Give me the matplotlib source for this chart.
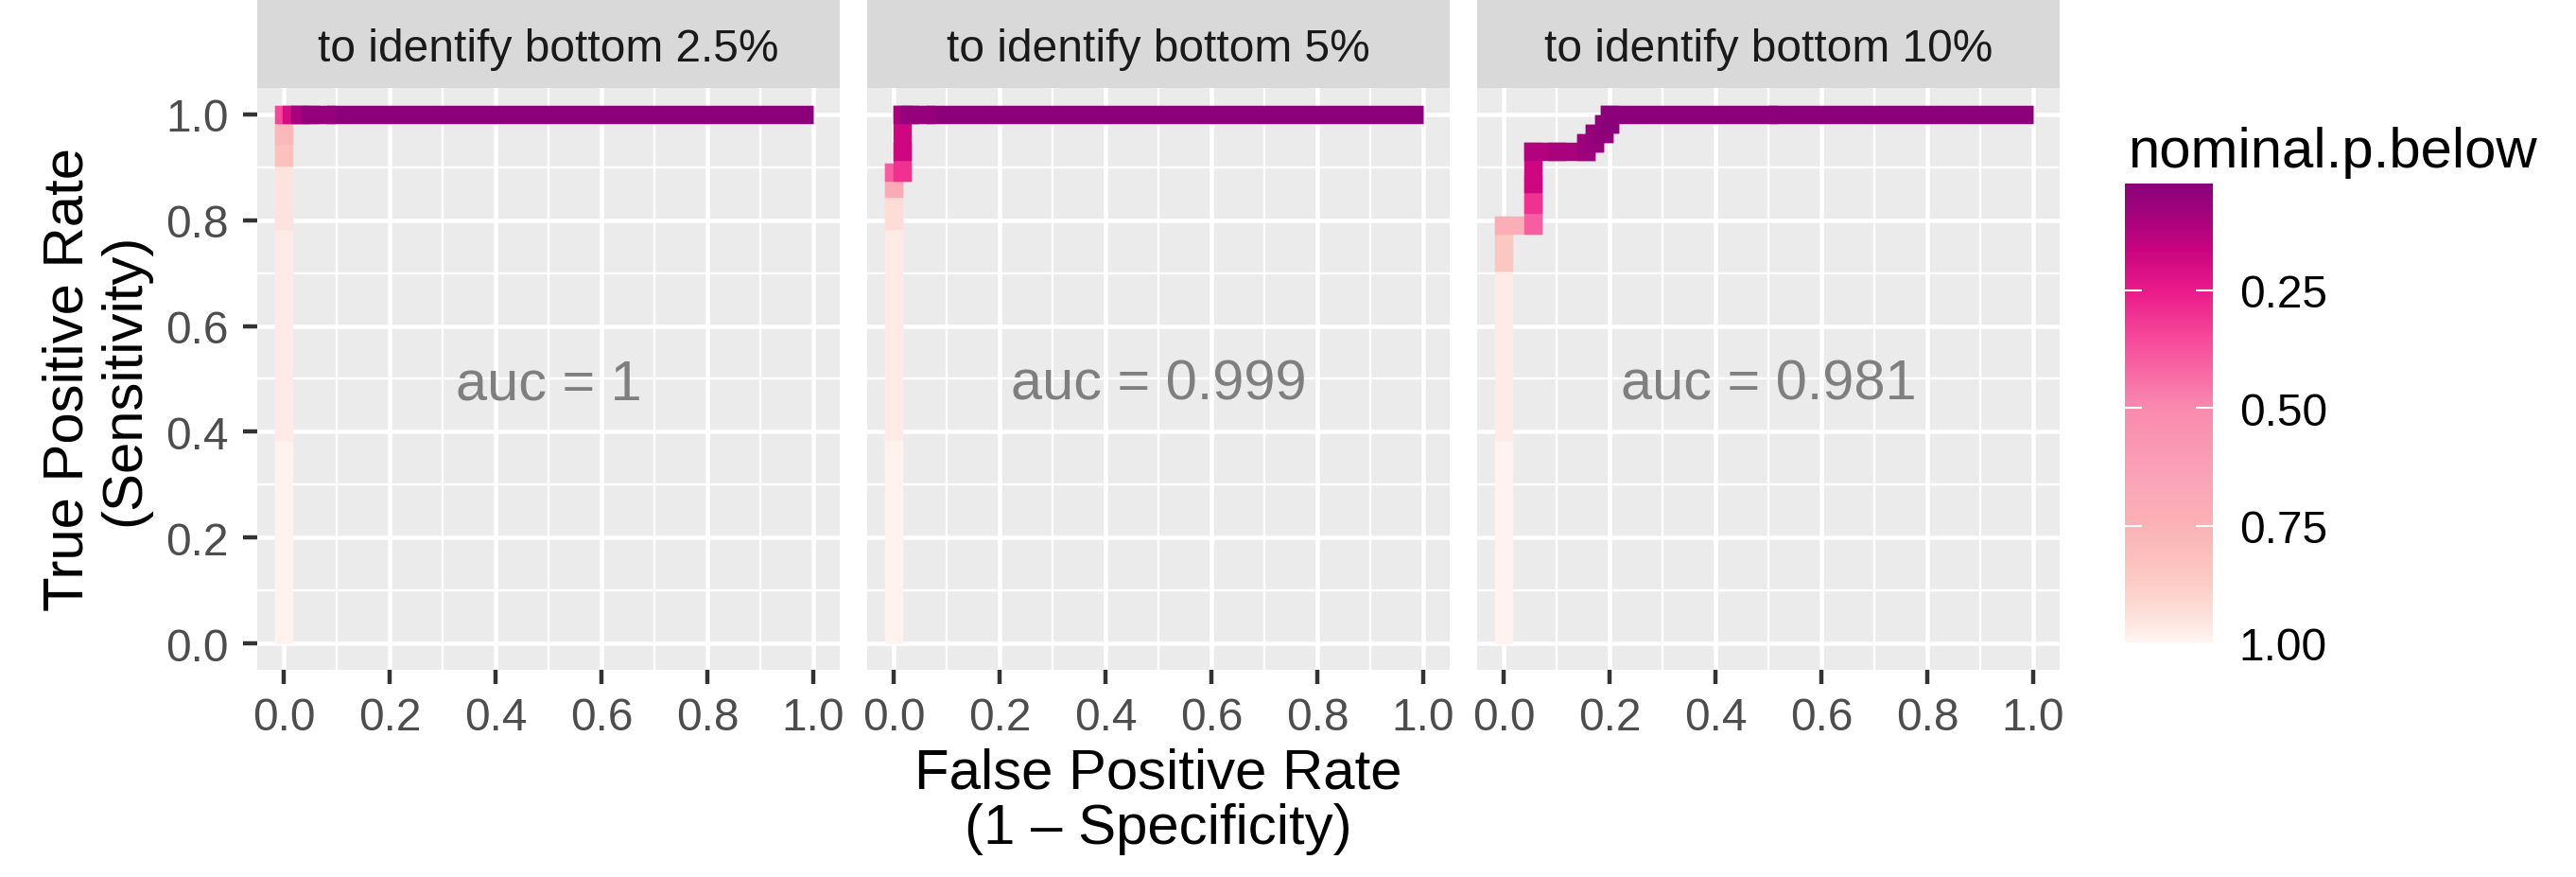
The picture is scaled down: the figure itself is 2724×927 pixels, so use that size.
import numpy as np
import matplotlib
matplotlib.use("Agg")
import matplotlib.pyplot as plt
from matplotlib.collections import LineCollection
from matplotlib.colors import LinearSegmentedColormap, Normalize
import matplotlib.cm as cm

plt.rcParams['font.family'] = ['Liberation Sans', 'DejaVu Sans']

# ---------------- data ----------------
facet_titles = ["to identify bottom 2.5%", "to identify bottom 5%", "to identify bottom 10%"]
auc_labels = ["auc = 1", "auc = 0.999", "auc = 0.981"]

fpr_25 = [0.0, 0.0, 0.0, 0.0, 0.0, 0.0, 0.015, 0.03, 0.05, 0.08, 1.0]
tpr_25 = [0.0, 0.4, 0.8, 0.92, 0.96, 1.0, 1.0, 1.0, 1.0, 1.0, 1.0]
p_25 = [0.99, 0.97, 0.95, 0.82, 0.78, 0.35, 0.2, 0.1, 0.05, 0.03, 0.025]

fpr_5 = [0.0, 0.0, 0.0, 0.0, 0.0, 0.016, 0.016, 0.016, 0.03, 0.06, 1.0]
tpr_5 = [0.0, 0.4, 0.8, 0.86, 0.89, 0.89, 0.93, 1.0, 1.0, 1.0, 1.0]
p_5 = [0.99, 0.97, 0.93, 0.7, 0.4, 0.3, 0.18, 0.1, 0.05, 0.03, 0.025]

fpr_10 = [0.0, 0.0, 0.0, 0.0, 0.055, 0.055, 0.055, 0.055, 0.1, 0.155, 0.155,
          0.172, 0.172, 0.189, 0.189, 0.2, 0.2, 0.5, 1.0]
tpr_10 = [0.0, 0.4, 0.72, 0.79, 0.79, 0.83, 0.87, 0.93, 0.93, 0.93, 0.947,
          0.947, 0.965, 0.965, 0.982, 0.982, 1.0, 1.0, 1.0]
p_10 = [0.99, 0.97, 0.85, 0.72, 0.4, 0.3, 0.18, 0.12, 0.1, 0.08, 0.07,
        0.06, 0.05, 0.04, 0.035, 0.03, 0.028, 0.025, 0.025]

curves = [(fpr_25, tpr_25, p_25), (fpr_5, tpr_5, p_5), (fpr_10, tpr_10, p_10)]

axis_ticks = [0.0, 0.2, 0.4, 0.6, 0.8, 1.0]
axis_minor = [0.1, 0.3, 0.5, 0.7, 0.9]
legend_ticks = [0.25, 0.50, 0.75, 1.00]
p_min, p_max = 0.024, 1.0

# ---------------- colour scale ----------------
anchor_p = [0.024, 0.08, 0.16, 0.25, 0.35, 0.50, 0.65, 0.75, 0.86, 0.95, 1.00]
anchor_c = ['#8b0179', '#a0027d', '#c8037f', '#ea1a8a', '#f6489a', '#f98aaf',
            '#faa3b7', '#fbb2b5', '#fcc8c2', '#fde3dd', '#fff5f2']
pos = [(v - p_min) / (p_max - p_min) for v in anchor_p]
cmap = LinearSegmentedColormap.from_list('rdpu_custom', list(zip(pos, anchor_c)))
norm = Normalize(vmin=p_min, vmax=p_max)

# ---------------- layout ----------------
W, H = 2724, 928
DPI = 100
fig = plt.figure(figsize=(W / DPI, H / DPI), dpi=DPI)
fig.patch.set_facecolor('white')

def fx(px):
    return px / W

def fy(py):
    return 1 - py / H

panel_lefts = [272, 917, 1562]
panel_w = 616
panel_top, panel_bot = 94, 709
strip_top = 1

BASE = 43.2
SMALL = 34.5
LW = 14

for i, L in enumerate(panel_lefts):
    ax = fig.add_axes([fx(L), fy(panel_bot), panel_w / W, (panel_bot - panel_top) / H])
    ax.set_facecolor('#EBEBEB')
    ax.set_xlim(-0.05, 1.05)
    ax.set_ylim(-0.05, 1.05)
    ax.set_xticks(axis_ticks)
    ax.set_xticklabels([f"{t:.1f}" for t in axis_ticks])
    ax.set_yticks(axis_ticks)
    ax.set_yticklabels([f"{t:.1f}" for t in axis_ticks])
    ax.set_xticks(axis_minor, minor=True)
    ax.set_yticks(axis_minor, minor=True)
    ax.grid(which='major', color='white', lw=3.3)
    ax.grid(which='minor', color='white', lw=1.7)
    ax.set_axisbelow(True)
    for s in ax.spines.values():
        s.set_visible(False)
    ax.tick_params(which='major', length=11, width=3.2, color='#333333',
                   labelcolor='#4D4D4D', labelsize=SMALL)
    ax.tick_params(axis='x', which='major', pad=9)
    ax.tick_params(axis='y', which='major', pad=11)
    ax.tick_params(which='minor', length=0)
    if i > 0:
        ax.tick_params(axis='y', which='major', left=False, labelleft=False)

    fpr, tpr, pv = curves[i]
    pts = np.column_stack([fpr, tpr])
    segs = np.stack([pts[:-1], pts[1:]], axis=1)
    cols = cmap(norm(np.array(pv[:-1])))
    # end segments with flat ends, inner ones with square caps to fill corners
    ends = LineCollection([segs[0], segs[-1]], colors=[cols[0], cols[-1]],
                          linewidths=LW, capstyle='butt', zorder=3)
    ax.add_collection(ends)
    inner = LineCollection(segs[1:-1], colors=cols[1:-1], linewidths=LW,
                           capstyle='projecting', joinstyle='miter', zorder=3)
    ax.add_collection(inner)

    ax.text(0.5, 0.49, auc_labels[i], ha='center', va='center',
            color='#7F7F7F', fontsize=42.8, zorder=4)

    sax = fig.add_axes([fx(L), fy(panel_top), panel_w / W, (panel_top - strip_top) / H])
    sax.set_facecolor('#D9D9D9')
    sax.set_xticks([])
    sax.set_yticks([])
    for s in sax.spines.values():
        s.set_visible(False)
    sax.text(0.5, 0.45, facet_titles[i], ha='center', va='center',
             color='#1A1A1A', fontsize=SMALL, transform=sax.transAxes)

# ---------------- colour bar legend ----------------
cax = fig.add_axes([fx(2247), fy(681), 93 / W, (681 - 195) / H])
sm = cm.ScalarMappable(norm=norm, cmap=cmap)
cb = fig.colorbar(sm, cax=cax)
cb.outline.set_visible(False)
cax.invert_yaxis()
cb.set_ticks(legend_ticks)
cb.set_ticklabels([f"{t:.2f}" for t in legend_ticks])
cax.minorticks_off()
cax.tick_params(which='major', direction='in', length=13, width=1.5,
                color='white', labelcolor='black', labelsize=SMALL,
                left=True, right=True, labelleft=False, labelright=True, pad=20)

fig.text(fx(2250), fy(177), 'nominal.p.below', fontsize=BASE, ha='left',
         va='baseline', color='black')

# ---------------- axis titles ----------------
fig.text(fx(102), fy(401), 'True Positive Rate\n(Sensitivity)', rotation=90,
         ha='center', va='center', multialignment='center', fontsize=BASE,
         linespacing=1.1, color='black')
fig.text(fx(1225), fy(790), 'False Positive Rate\n(1 \u2013 Specificity)',
         ha='center', va='top', multialignment='center', fontsize=BASE,
         linespacing=1.1, color='black')

fig.savefig('out.png', dpi=DPI, facecolor='white')
